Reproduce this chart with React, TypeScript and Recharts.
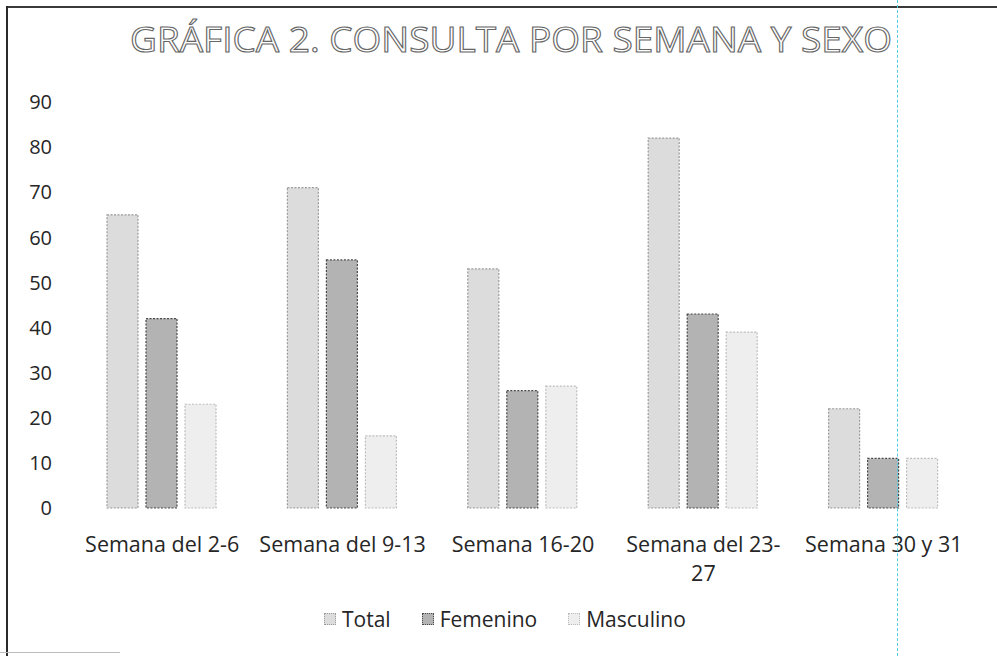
import React from 'react';
import { BarChart, Bar, XAxis, YAxis, Legend } from 'recharts';

const categories = ['Semana del 2-6', 'Semana del 9-13', 'Semana 16-20', 'Semana del 23-27', 'Semana 30 y 31'];
const categoryLines = [
  ['Semana del 2-6'],
  ['Semana del 9-13'],
  ['Semana 16-20'],
  ['Semana del 23-', '27'],
  ['Semana 30 y 31'],
];
const total = [65, 71, 53, 82, 22];
const femenino = [42, 55, 26, 43, 11];
const masculino = [23, 16, 27, 39, 11];
const yTicks = [0, 10, 20, 30, 40, 50, 60, 70, 80, 90];
const seriesNames = ['Total', 'Femenino', 'Masculino'];
const titleText = 'GRÁFICA 2. CONSULTA POR SEMANA Y SEXO';

const data = categories.map((name, i) => ({
  name,
  Total: total[i],
  Femenino: femenino[i],
  Masculino: masculino[i],
}));

const FONT = '"Open Sans", "Noto Sans", sans-serif';
const TEXT = '#262626';

const seriesStyle: Record<string, { fill: string; stroke: string }> = {
  Total: { fill: '#dcdcdc', stroke: '#9a9a9a' },
  Femenino: { fill: '#b3b3b3', stroke: '#4a4a4a' },
  Masculino: { fill: '#eeeeee', stroke: '#bdbdbd' },
};

const XTick = (props: any) => {
  const { x, y, payload } = props;
  const lines = categoryLines[payload.index] || [payload.value];
  return (
    <text x={x} y={y} textAnchor="middle" fill={TEXT} fontSize={21.5} fontFamily={FONT}>
      {lines.map((l: string, i: number) => (
        <tspan key={i} x={x} dy={i === 0 ? 44 : 29}>
          {l}
        </tspan>
      ))}
    </text>
  );
};

const YTick = (props: any) => {
  const { y, payload } = props;
  return (
    <text x={52} y={y} dy="0.36em" textAnchor="end" fill={TEXT} fontSize={20} fontFamily={FONT}>
      {payload.value}
    </text>
  );
};

const LegendContent = (props: any) => {
  const payload = props.payload || [];
  const ordered = seriesNames
    .map((n) => payload.find((p: any) => p.value === n || p.dataKey === n))
    .filter(Boolean);
  return (
    <div style={{ display: 'flex', alignItems: 'center', height: 24, lineHeight: '24px' }}>
      {ordered.map((p: any, i: number) => {
        const st = seriesStyle[p.value];
        return (
          <div key={i} style={{ display: 'flex', alignItems: 'center', marginRight: i < 2 ? 31 : 0 }}>
            <span
              style={{
                display: 'inline-block',
                width: 10,
                height: 10,
                background: st.fill,
                border: `1px dotted ${st.stroke}`,
                marginRight: 6,
              }}
            />
            <span style={{ fontFamily: FONT, fontSize: 21, color: TEXT }}>{p.value}</span>
          </div>
        );
      })}
    </div>
  );
};

export default function App() {
  return (
    <div
      style={{
        position: 'absolute',
        left: 0,
        top: 0,
        width: 997,
        height: 656,
        background: '#fff',
        overflow: 'hidden',
      }}
    >
      <BarChart
        width={997}
        height={656}
        data={data}
        margin={{ top: 102, right: 23, left: 0, bottom: 0 }}
        barCategoryGap={35}
        barGap={8}
      >
        <XAxis
          dataKey="name"
          axisLine={false}
          tickLine={false}
          tickSize={0}
          tickMargin={0}
          height={148}
          interval={0}
          tick={<XTick />}
        />
        <YAxis
          domain={[0, 90]}
          ticks={yTicks}
          axisLine={false}
          tickLine={false}
          width={72}
          interval={0}
          tick={<YTick />}
        />
        <Legend
          layout="horizontal"
          verticalAlign="middle"
          align="center"
          content={<LegendContent />}
          wrapperStyle={{ position: 'absolute', left: 324, top: 607, width: 'auto' }}
        />
        {seriesNames.map((k) => (
          <Bar
            key={k}
            dataKey={k}
            fill={seriesStyle[k].fill}
            stroke={seriesStyle[k].stroke}
            strokeWidth={1.2}
            strokeDasharray="2 1.5"
            isAnimationActive={false}
          />
        ))}
      </BarChart>
      <svg
        width={997}
        height={80}
        style={{ position: 'absolute', left: 0, top: 0, pointerEvents: 'none' }}
      >
        <text
          x={130}
          y={52}
          textLength={762}
          lengthAdjust="spacingAndGlyphs"
          fontSize={35}
          fontFamily={FONT}
          fill="#ffffff"
          stroke="#666666"
          strokeWidth={1.1}
        >
          {titleText}
        </text>
      </svg>
      <div style={{ position: 'absolute', left: 7, top: 6, width: 990, height: 2, background: '#3a3a3a' }} />
      <div style={{ position: 'absolute', left: 6, top: 6, width: 2, height: 650, background: '#2a2a2a' }} />
      <div style={{ position: 'absolute', left: 0, top: 652, width: 120, height: 1, background: '#bbbbbb' }} />
      <div
        style={{
          position: 'absolute',
          left: 897,
          top: 0,
          width: 0,
          height: 656,
          borderLeft: '1.5px dashed #52cde0',
        }}
      />
    </div>
  );
}
